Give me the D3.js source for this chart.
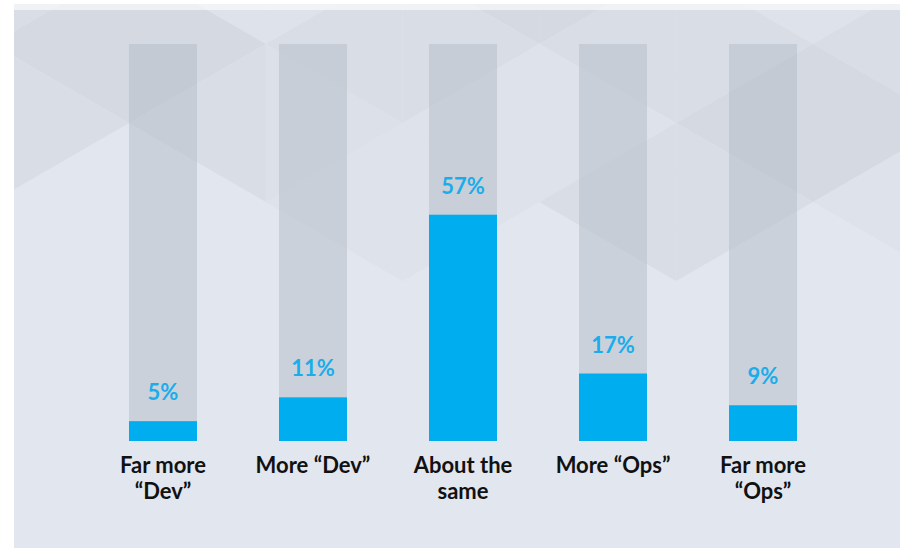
<!DOCTYPE html>
<html>
<head>
<meta charset="utf-8">
<script src="https://cdn.jsdelivr.net/npm/d3@7"></script>
<style>
  html, body { margin: 0; padding: 0; background: #ffffff; }
  svg { display: block; }
  text { font-family: Lato, "Open Sans", sans-serif; }
</style>
</head>
<body>
<svg id="chart" width="905" height="548"></svg>
<script>
// Survey answers: share of respondents per category (percent)
const categories = ["Far more “Dev”", "More “Dev”", "About the same", "More “Ops”", "Far more “Ops”"];
const labelLines = [["Far more", "“Dev”"], ["More “Dev”"], ["About the", "same"], ["More “Ops”"], ["Far more", "“Ops”"]];
const values = [5, 11, 57, 17, 9];
const valueLabels = ["5%", "11%", "57%", "17%", "9%"];
const maxValue = 100;

const W = 905, H = 548;
const panel = { x0: 14, x1: 900, y0: 4, y1: 548 };
const plotTop = 44, plotBottom = 441;

const svg = d3.select("#chart");

// ---- decorative background: a triangular lattice with a few shaded cells ----
const defs = svg.append("defs");
defs.append("clipPath").attr("id", "panel-clip")
  .append("rect")
  .attr("x", panel.x0).attr("y", panel.y0)
  .attr("width", panel.x1 - panel.x0).attr("height", panel.y1 - panel.y0);

svg.append("rect")
  .attr("x", panel.x0).attr("y", panel.y0)
  .attr("width", panel.x1 - panel.x0).attr("height", panel.y1 - panel.y0)
  .attr("fill", "#E2E6EE");

const colX0 = 129, colStep = 136.8, side = 158;
const colX = k => colX0 + colStep * k;
const tone = { t1: "#DEE2EA", t2: "#D9DEE6", t3: "#D5D9E1", t4: "#DCE0E8" };
// [edge column, top of vertical edge, apex column, tone]
const cells = [
  [-1, -114, 0, "t2"], [0, -35, -1, "t3"], [-1, 44, 0, "t2"],
  [1, -114, 0, "t1"], [0, -35, 1, "t3"], [1, 44, 0, "t2"],
  [1, -114, 2, "t1"], [2, -35, 1, "t2"], [1, 44, 2, "t4"], [2, 123, 1, "t1"],
  [3, -114, 2, "t3"], [2, -35, 3, "t2"], [3, 44, 2, "t1"], [2, 123, 3, "t1"],
  [3, -114, 4, "t3"], [4, -35, 3, "t2"], [3, 44, 4, "t1"], [4, 123, 3, "t2"],
  [5, -114, 4, "t1"], [4, -35, 5, "t2"], [5, 44, 4, "t3"], [4, 123, 5, "t2"],
  [5, -114, 6, "t1"], [6, -35, 5, "t2"], [5, 44, 6, "t3"], [6, 123, 5, "t1"]
];
const bg = svg.append("g").attr("clip-path", "url(#panel-clip)");
bg.selectAll("path.cell")
  .data(cells)
  .join("path")
  .attr("class", "cell")
  .attr("d", ([ec, top, ac]) => {
    const ex = colX(ec), ax = colX(ac);
    return d3.line()([[ex, top], [ex, top + side], [ax, top + side / 2]]) + "Z";
  })
  .attr("fill", d => tone[d[3]]);

// pale strip along the top edge
svg.append("rect")
  .attr("x", panel.x0).attr("y", panel.y0)
  .attr("width", panel.x1 - panel.x0).attr("height", 6)
  .attr("fill", "#ffffff").attr("opacity", 0.6);

// ---- scales ----
const x = d3.scaleBand()
  .domain(categories)
  .range([88, 838])
  .paddingInner(0.5467)
  .paddingOuter(0.2733);

const y = d3.scaleLinear()
  .domain([0, maxValue])
  .range([plotBottom, plotTop]);

const data = categories.map((c, i) => ({ cat: c, value: values[i], label: valueLabels[i], lines: labelLines[i] }));

// track bars (full scale)
svg.append("g").selectAll("rect")
  .data(data)
  .join("rect")
  .attr("x", d => x(d.cat))
  .attr("y", y(maxValue))
  .attr("width", x.bandwidth())
  .attr("height", y(0) - y(maxValue))
  .attr("fill", "rgb(180,188,198)")
  .attr("fill-opacity", 0.5);

// value bars
svg.append("g").selectAll("rect")
  .data(data)
  .join("rect")
  .attr("x", d => x(d.cat))
  .attr("y", d => y(d.value))
  .attr("width", x.bandwidth())
  .attr("height", d => y(0) - y(d.value))
  .attr("fill", "#00AEEF");

// value labels
svg.append("g").selectAll("text")
  .data(data)
  .join("text")
  .attr("x", d => x(d.cat) + x.bandwidth() / 2)
  .attr("y", d => y(d.value) - 21)
  .attr("text-anchor", "middle")
  .attr("font-size", 22)
  .attr("font-weight", 700)
  .attr("fill", "#1AADEA")
  .text(d => d.label);

// category axis
const axis = svg.append("g")
  .attr("transform", `translate(0,${plotBottom})`)
  .call(d3.axisBottom(x).tickSize(0).tickPadding(0));
axis.select(".domain").remove();
axis.selectAll(".tick text").each(function(cat) {
  const lines = labelLines[categories.indexOf(cat)];
  const t = d3.select(this)
    .attr("font-size", 22)
    .attr("font-weight", 700)
    .attr("fill", "#111111")
    .attr("font-family", "Lato, 'Open Sans', sans-serif")
    .attr("y", 0)
    .attr("dy", null)
    .text(null);
  lines.forEach((ln, i) => {
    t.append("tspan")
      .attr("x", 0)
      .attr("y", 32 + i * 26)
      .text(ln);
  });
});
</script>
</body>
</html>
